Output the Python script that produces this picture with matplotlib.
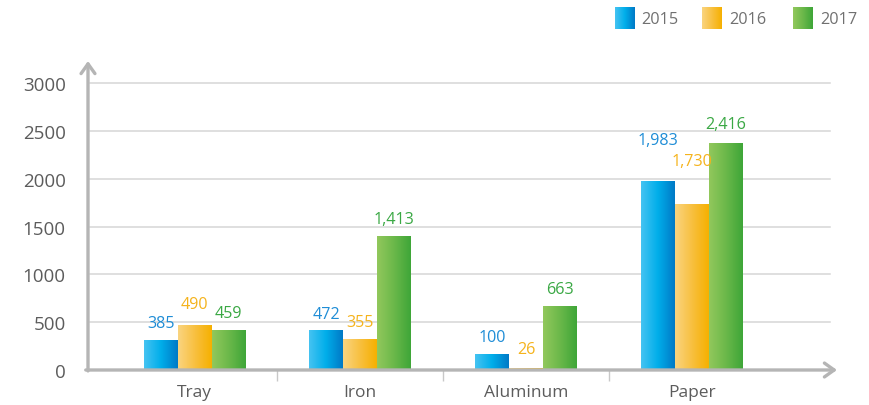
import numpy as np
import matplotlib
matplotlib.use("Agg")
import matplotlib.pyplot as plt
from matplotlib.colors import LinearSegmentedColormap

plt.rcParams['font.family'] = ['Open Sans', 'DejaVu Sans']

categories = ['Tray', 'Iron', 'Aluminum', 'Paper']
years = ['2015', '2016', '2017']
# printed labels
labels_2015 = [385, 472, 100, 1983]
labels_2016 = [490, 355, 26, 1730]
labels_2017 = [459, 1413, 663, 2416]
# bar heights as drawn (they do not follow the labels exactly)
bars_2015 = [313, 418, 157, 1975]
bars_2016 = [470, 324, 20, 1735]
bars_2017 = [408, 1400, 668, 2372]
yticks = [0, 500, 1000, 1500, 2000, 2500, 3000]

grads = [['#45c3f2', '#00aeea', '#0079c6'],
         ['#fad480', '#f8c040', '#f6b000'],
         ['#92c85c', '#6bb84a', '#3ea638']]
label_colors = ['#1f8dd6', '#f5b31c', '#3aa844']
# label gap above each bar, px
label_pad = [[9, 8, 10, 33], [13, 9, 11, 35], [10, 9, 9, 11]]

axis_col = '#b5b5b5'
text_col = '#5c5c5c'


def gradient(ax, x0, x1, y0, y1, cols):
    cmap = LinearSegmentedColormap.from_list('g', cols)
    g = np.linspace(0, 1, 128).reshape(1, -1)
    ax.imshow(g, cmap=cmap, extent=(x0, x1, y0, y1), aspect='auto',
              interpolation='bilinear', zorder=3)


fig = plt.figure(figsize=(8.7, 4.06), dpi=100)
ax = fig.add_axes([88 / 870, 35 / 406, 749 / 870, 309 / 406])

x = np.arange(len(categories))
w = 0.205
series = [bars_2015, bars_2016, bars_2017]
labels = [labels_2015, labels_2016, labels_2017]
for i in range(3):
    rects = ax.bar(x + (i - 1) * w, series[i], w, color='none', zorder=3)
    for j, r in enumerate(rects):
        gradient(ax, r.get_x(), r.get_x() + r.get_width(), 0, r.get_height(), grads[i])
        ax.annotate(f'{labels[i][j]:,}', (r.get_x() + r.get_width() / 2, r.get_height()),
                    xytext=(0, label_pad[i][j] * 0.72), textcoords='offset points',
                    ha='center', va='bottom', fontsize=11.6, color=label_colors[i], zorder=4)

ax.set_xlim(-0.643, 3.877)
ax.set_ylim(0, 3230)

for t in yticks[1:]:
    ax.plot([-0.63, 3.835], [t, t], color='#d6d6d6', lw=1.1, zorder=1)

for s in ax.spines.values():
    s.set_visible(False)
ax.annotate('', xy=(0, 1), xytext=(0, -0.003), xycoords='axes fraction',
            arrowprops=dict(arrowstyle='->,head_length=0.35,head_width=0.25', lw=2.4,
                            color=axis_col, shrinkA=0, shrinkB=0, mutation_scale=20), zorder=5)
ax.annotate('', xy=(1, 0), xytext=(-0.003, 0), xycoords='axes fraction',
            arrowprops=dict(arrowstyle='->,head_length=0.35,head_width=0.25', lw=2.4,
                            color=axis_col, shrinkA=0, shrinkB=0, mutation_scale=20), zorder=5)

ax.set_yticks(yticks)
ax.set_yticklabels([str(t) for t in yticks])
ax.tick_params(axis='y', length=0, pad=16, labelsize=13.5, labelcolor=text_col)
ax.set_xticks(x)
ax.set_xticklabels(categories)
ax.tick_params(axis='x', which='major', length=0, pad=10, labelsize=12.5, labelcolor=text_col)
ax.set_xticks([0.5, 1.5, 2.5], minor=True)
ax.tick_params(axis='x', which='minor', length=8, width=1, color='#c8c8c8', direction='out')

# legend in pixel space
lg = fig.add_axes([0, 0, 1, 1], zorder=10)
lg.axis('off')
lg.patch.set_alpha(0)
for i, (px, tx) in enumerate([(615, 641), (702, 729), (793, 820)]):
    gradient(lg, px, px + 20, 30, 8, grads[i])
    lg.text(tx, 19.5, years[i], fontsize=11.7, color='#707070', va='center', ha='left')
lg.set_xlim(0, 870)
lg.set_ylim(406, 0)

fig.savefig('out.png', dpi=100)
